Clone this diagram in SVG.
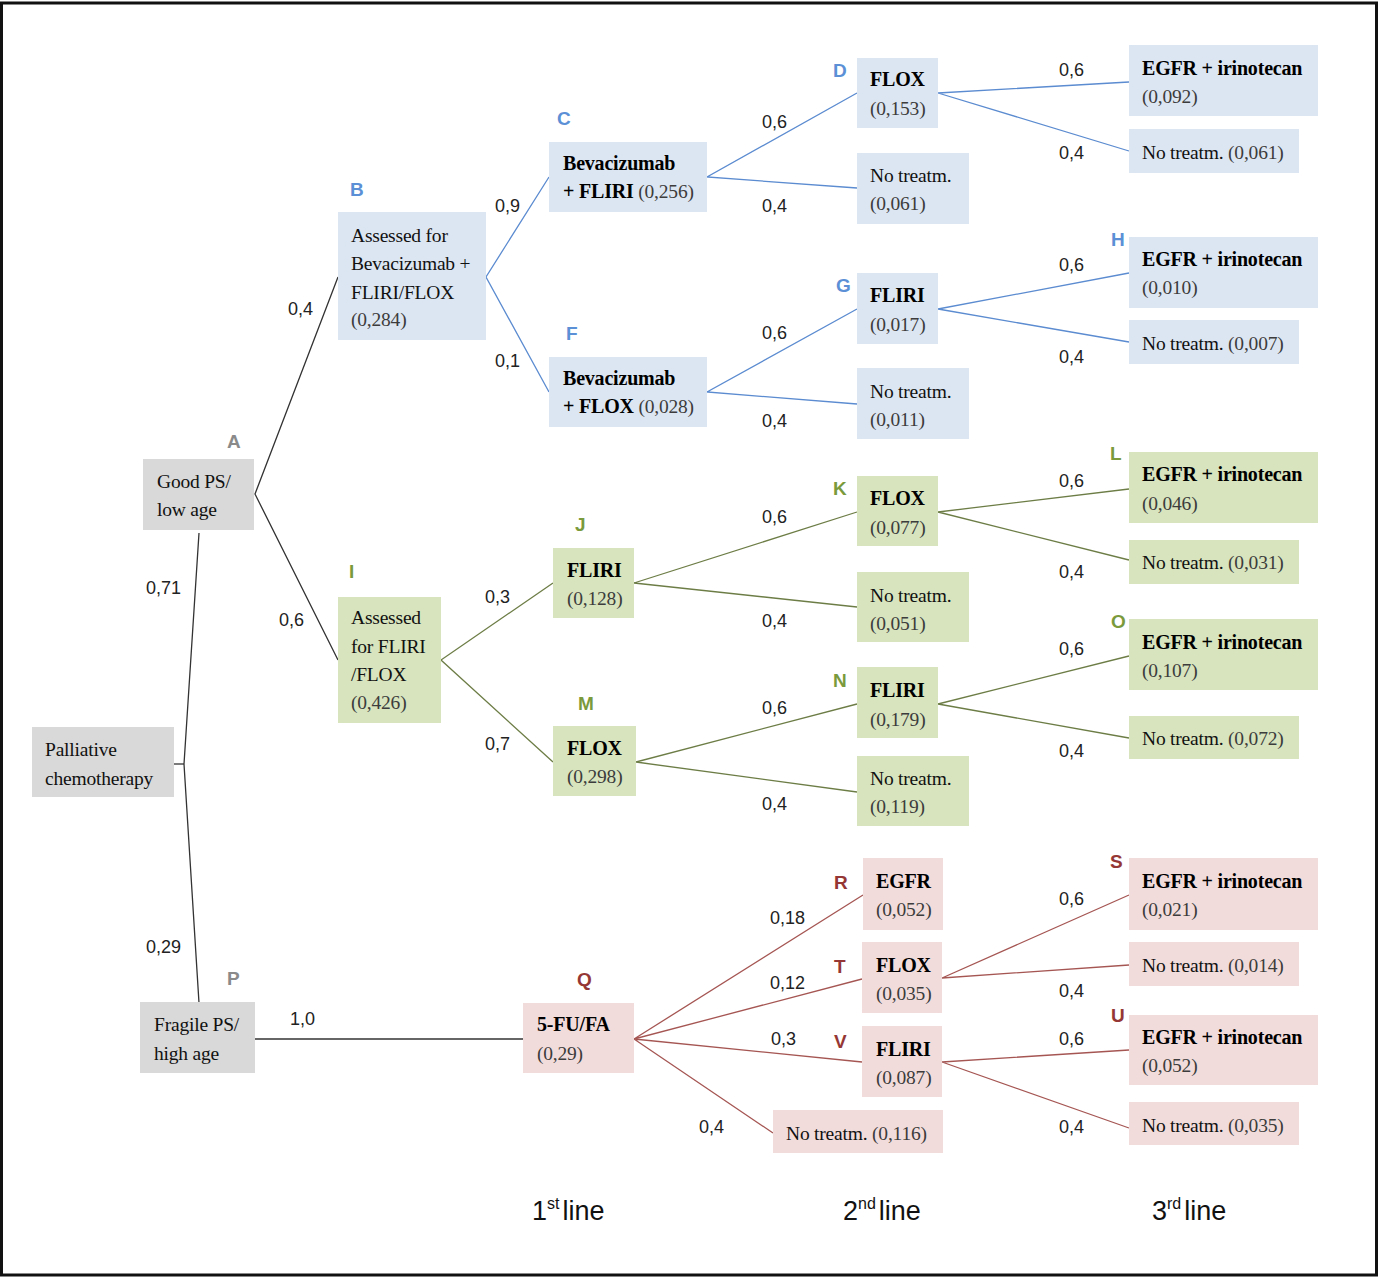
<svg xmlns="http://www.w3.org/2000/svg" width="1379" height="1277" viewBox="0 0 1379 1277">
<style>
.bx{stroke:none}
.g{fill:#d9d9d9}.b{fill:#dce6f2}.gr{fill:#d7e4bd}.p{fill:#f2dcdb}
.t{font-family:"Liberation Serif",serif;font-size:19.5px;fill:#111;letter-spacing:-0.2px}
.tb{font-weight:bold;fill:#000;letter-spacing:-0.2px;font-size:20px}
.n{fill:#3c3c3c}
.lb{font-family:"Liberation Sans",Arial,sans-serif;font-size:18px;fill:#222}
.ltr{font-family:"Liberation Sans",Arial,sans-serif;font-size:19px;font-weight:bold}
.lg{fill:#8a8a8a}.lbl{fill:#5b8fd6}.lgr{fill:#7a9a3c}.lr{fill:#953735}
.ft{font-family:"Liberation Sans",Arial,sans-serif;font-size:27px;fill:#111}
.ck{stroke:#333;stroke-width:1.3;fill:none}
.cb{stroke:#5b8bd0;stroke-width:1.3;fill:none}
.cg{stroke:#6d7d46;stroke-width:1.3;fill:none}
.cr{stroke:#a55653;stroke-width:1.3;fill:none}
</style>
<rect x="1.5" y="3" width="1375" height="1272" fill="#fff" stroke="#111" stroke-width="3"/>
<g id="connectors">
<polyline class="ck" points="174,764 184,764"/>
<polyline class="ck" points="199,533 184,764 199,1003"/>
<polyline class="ck" points="338,277 255,494 338,660"/>
<line class="ck" x1="255" y1="1039" x2="523" y2="1039"/>
<polyline class="cb" points="549,177 486,277 549,392"/>
<polyline class="cb" points="857,93 707,177 857,188"/>
<polyline class="cb" points="1129,82 938,93 1129,151"/>
<polyline class="cb" points="857,309 707,392 857,404"/>
<polyline class="cb" points="1129,273 938,309 1129,342"/>
<polyline class="cg" points="553,583 441,660 553,762"/>
<polyline class="cg" points="857,512 634,583 857,607"/>
<polyline class="cg" points="1129,489 938,512 1129,560"/>
<polyline class="cg" points="857,704 636,762 857,792"/>
<polyline class="cg" points="1129,656 938,704 1129,738"/>
<polyline class="cr" points="863,895 634,1039 862,979"/>
<polyline class="cr" points="862,1062 634,1039 773,1133"/>
<polyline class="cr" points="1129,895 942,978 1129,965"/>
<polyline class="cr" points="1129,1050 942,1062 1129,1128"/>
</g>
<g id="edge-labels" class="lb">
<text x="146" y="594">0,71</text>
<text x="146" y="953">0,29</text>
<text x="288" y="315">0,4</text>
<text x="279" y="626">0,6</text>
<text x="290" y="1025">1,0</text>
<text x="495" y="212">0,9</text>
<text x="495" y="367">0,1</text>
<text x="485" y="603">0,3</text>
<text x="485" y="750">0,7</text>
<text x="762" y="128">0,6</text>
<text x="762" y="212">0,4</text>
<text x="762" y="339">0,6</text>
<text x="762" y="427">0,4</text>
<text x="762" y="523">0,6</text>
<text x="762" y="627">0,4</text>
<text x="762" y="714">0,6</text>
<text x="762" y="810">0,4</text>
<text x="1059" y="76">0,6</text>
<text x="1059" y="159">0,4</text>
<text x="1059" y="271">0,6</text>
<text x="1059" y="363">0,4</text>
<text x="1059" y="487">0,6</text>
<text x="1059" y="578">0,4</text>
<text x="1059" y="655">0,6</text>
<text x="1059" y="757">0,4</text>
<text x="770" y="924">0,18</text>
<text x="770" y="989">0,12</text>
<text x="771" y="1045">0,3</text>
<text x="699" y="1133">0,4</text>
<text x="1059" y="905">0,6</text>
<text x="1059" y="997">0,4</text>
<text x="1059" y="1045">0,6</text>
<text x="1059" y="1133">0,4</text>
</g>
<g id="root">
<rect class="bx g" x="32" y="727" width="142" height="70"/>
<text class="t" x="45" y="756">Palliative</text>
<text class="t" x="45" y="785">chemotherapy</text>
</g>
<g id="A">
<text class="ltr lg" x="227" y="448">A</text>
<rect class="bx g" x="143" y="459" width="111" height="71"/>
<text class="t" x="157" y="488">Good PS/</text>
<text class="t" x="157" y="516">low age</text>
</g>
<g id="P">
<text class="ltr lg" x="227" y="985">P</text>
<rect class="bx g" x="140" y="1002" width="115" height="71"/>
<text class="t" x="154" y="1031">Fragile PS/</text>
<text class="t" x="154" y="1060">high age</text>
</g>
<g id="B">
<text class="ltr lbl" x="350" y="196">B</text>
<rect class="bx b" x="338" y="212" width="148" height="128"/>
<text class="t" x="351" y="242">Assessed for</text>
<text class="t" x="351" y="270">Bevacizumab +</text>
<text class="t" x="351" y="299">FLIRI/FLOX</text>
<text class="t n" x="351" y="326">(0,284)</text>
</g>
<g id="I">
<text class="ltr lgr" x="349" y="578">I</text>
<rect class="bx gr" x="338" y="597" width="103" height="126"/>
<text class="t" x="351" y="624">Assessed</text>
<text class="t" x="351" y="653">for FLIRI</text>
<text class="t" x="351" y="681">/FLOX</text>
<text class="t n" x="351" y="709">(0,426)</text>
</g>
<g id="C">
<text class="ltr lbl" x="557" y="125">C</text>
<rect class="bx b" x="549" y="142" width="158" height="70"/>
<text class="t tb" x="563" y="170">Bevacizumab</text>
<text class="t" x="563" y="198"><tspan class="tb">+ FLIRI</tspan> <tspan class="n">(0,256)</tspan></text>
</g>
<g id="F">
<text class="ltr lbl" x="566" y="340">F</text>
<rect class="bx b" x="549" y="357" width="158" height="70"/>
<text class="t tb" x="563" y="385">Bevacizumab</text>
<text class="t" x="563" y="413"><tspan class="tb">+ FLOX</tspan> <tspan class="n">(0,028)</tspan></text>
</g>
<g id="D">
<text class="ltr lbl" x="833" y="77">D</text>
<rect class="bx b" x="857" y="58" width="81" height="70"/>
<text class="t tb" x="870" y="86">FLOX</text>
<text class="t n" x="870" y="115">(0,153)</text>
</g>
<g id="C-none">
<rect class="bx b" x="857" y="153" width="112" height="71"/>
<text class="t" x="870" y="182">No treatm.</text>
<text class="t n" x="870" y="210">(0,061)</text>
</g>
<g id="D-egfr">
<rect class="bx b" x="1129" y="45" width="189" height="71"/>
<text class="t tb" x="1142" y="75">EGFR + irinotecan</text>
<text class="t n" x="1142" y="103">(0,092)</text>
</g>
<g id="D-none">
<rect class="bx b" x="1129" y="129" width="170" height="44"/>
<text class="t" x="1142" y="159">No treatm. <tspan class="n">(0,061)</tspan></text>
</g>
<g id="G">
<text class="ltr lbl" x="836" y="292">G</text>
<rect class="bx b" x="857" y="273" width="81" height="71"/>
<text class="t tb" x="870" y="302">FLIRI</text>
<text class="t n" x="870" y="331">(0,017)</text>
</g>
<g id="F-none">
<rect class="bx b" x="857" y="368" width="112" height="71"/>
<text class="t" x="870" y="398">No treatm.</text>
<text class="t n" x="870" y="426">(0,011)</text>
</g>
<g id="H">
<text class="ltr lbl" x="1111" y="246">H</text>
<rect class="bx b" x="1129" y="237" width="189" height="71"/>
<text class="t tb" x="1142" y="266">EGFR + irinotecan</text>
<text class="t n" x="1142" y="294">(0,010)</text>
</g>
<g id="G-none">
<rect class="bx b" x="1129" y="320" width="170" height="44"/>
<text class="t" x="1142" y="350">No treatm. <tspan class="n">(0,007)</tspan></text>
</g>
<g id="J">
<text class="ltr lgr" x="575" y="531">J</text>
<rect class="bx gr" x="553" y="548" width="81" height="70"/>
<text class="t tb" x="567" y="577">FLIRI</text>
<text class="t n" x="567" y="605">(0,128)</text>
</g>
<g id="M">
<text class="ltr lgr" x="578" y="710">M</text>
<rect class="bx gr" x="553" y="726" width="83" height="70"/>
<text class="t tb" x="567" y="755">FLOX</text>
<text class="t n" x="567" y="783">(0,298)</text>
</g>
<g id="K">
<text class="ltr lgr" x="833" y="495">K</text>
<rect class="bx gr" x="857" y="476" width="81" height="70"/>
<text class="t tb" x="870" y="505">FLOX</text>
<text class="t n" x="870" y="534">(0,077)</text>
</g>
<g id="J-none">
<rect class="bx gr" x="857" y="572" width="112" height="70"/>
<text class="t" x="870" y="602">No treatm.</text>
<text class="t n" x="870" y="630">(0,051)</text>
</g>
<g id="L">
<text class="ltr lgr" x="1110" y="460">L</text>
<rect class="bx gr" x="1129" y="452" width="189" height="71"/>
<text class="t tb" x="1142" y="481">EGFR + irinotecan</text>
<text class="t n" x="1142" y="510">(0,046)</text>
</g>
<g id="K-none">
<rect class="bx gr" x="1129" y="540" width="170" height="44"/>
<text class="t" x="1142" y="569">No treatm. <tspan class="n">(0,031)</tspan></text>
</g>
<g id="N">
<text class="ltr lgr" x="833" y="687">N</text>
<rect class="bx gr" x="857" y="667" width="81" height="71"/>
<text class="t tb" x="870" y="697">FLIRI</text>
<text class="t n" x="870" y="726">(0,179)</text>
</g>
<g id="M-none">
<rect class="bx gr" x="857" y="756" width="112" height="70"/>
<text class="t" x="870" y="785">No treatm.</text>
<text class="t n" x="870" y="813">(0,119)</text>
</g>
<g id="O">
<text class="ltr lgr" x="1111" y="628">O</text>
<rect class="bx gr" x="1129" y="619" width="189" height="71"/>
<text class="t tb" x="1142" y="649">EGFR + irinotecan</text>
<text class="t n" x="1142" y="677">(0,107)</text>
</g>
<g id="N-none">
<rect class="bx gr" x="1129" y="716" width="170" height="43"/>
<text class="t" x="1142" y="745">No treatm. <tspan class="n">(0,072)</tspan></text>
</g>
<g id="Q">
<text class="ltr lr" x="577" y="986">Q</text>
<rect class="bx p" x="523" y="1003" width="111" height="70"/>
<text class="t tb" x="537" y="1031">5-FU/FA</text>
<text class="t n" x="537" y="1060">(0,29)</text>
</g>
<g id="R">
<text class="ltr lr" x="834" y="889">R</text>
<rect class="bx p" x="863" y="858" width="80" height="72"/>
<text class="t tb" x="876" y="888">EGFR</text>
<text class="t n" x="876" y="916">(0,052)</text>
</g>
<g id="T">
<text class="ltr lr" x="834" y="973">T</text>
<rect class="bx p" x="862" y="942" width="80" height="71"/>
<text class="t tb" x="876" y="972">FLOX</text>
<text class="t n" x="876" y="1000">(0,035)</text>
</g>
<g id="V">
<text class="ltr lr" x="834" y="1048">V</text>
<rect class="bx p" x="862" y="1026" width="80" height="71"/>
<text class="t tb" x="876" y="1056">FLIRI</text>
<text class="t n" x="876" y="1084">(0,087)</text>
</g>
<g id="Q-none">
<rect class="bx p" x="773" y="1110" width="170" height="43"/>
<text class="t" x="786" y="1140">No treatm. <tspan class="n">(0,116)</tspan></text>
</g>
<g id="S">
<text class="ltr lr" x="1110" y="868">S</text>
<rect class="bx p" x="1129" y="858" width="189" height="72"/>
<text class="t tb" x="1142" y="888">EGFR + irinotecan</text>
<text class="t n" x="1142" y="916">(0,021)</text>
</g>
<g id="T-none">
<rect class="bx p" x="1129" y="942" width="170" height="44"/>
<text class="t" x="1142" y="972">No treatm. <tspan class="n">(0,014)</tspan></text>
</g>
<g id="U">
<text class="ltr lr" x="1111" y="1022">U</text>
<rect class="bx p" x="1129" y="1015" width="189" height="70"/>
<text class="t tb" x="1142" y="1044">EGFR + irinotecan</text>
<text class="t n" x="1142" y="1072">(0,052)</text>
</g>
<g id="V-none">
<rect class="bx p" x="1129" y="1102" width="170" height="43"/>
<text class="t" x="1142" y="1132">No treatm. <tspan class="n">(0,035)</tspan></text>
</g>
<g id="footer" class="ft">
<text x="532" y="1220">1<tspan font-size="16" dy="-11">st</tspan><tspan dx="3" dy="11">line</tspan></text>
<text x="843" y="1220">2<tspan font-size="16" dy="-11">nd</tspan><tspan dx="3" dy="11">line</tspan></text>
<text x="1152" y="1220">3<tspan font-size="16" dy="-11">rd</tspan><tspan dx="3" dy="11">line</tspan></text>
</g>
</svg>
